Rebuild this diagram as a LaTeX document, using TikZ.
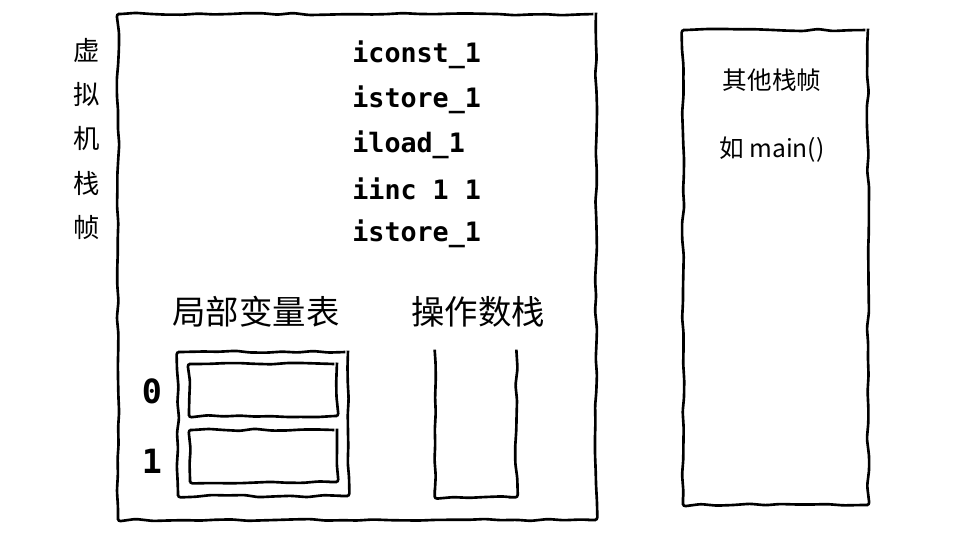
\documentclass[tikz,border=0pt]{standalone}
\usepackage{fontspec}
\setmainfont{Noto Sans CJK SC}
\setmonofont{DejaVu Sans Mono}
\usetikzlibrary{positioning, decorations.pathmorphing}
\tikzset{
	sketch/.style={draw, line width=1.5pt, decorate,
		decoration={random steps, segment length=9pt, amplitude=0.7pt},
		rounded corners=1.5pt, inner sep=0pt}, % Trazo a mano alzada
	code/.style={font=\ttfamily\bfseries\fontsize{15.2}{18}\selectfont,
		text width=3cm, align=left, inner sep=0pt}, % Instrucciones
	label/.style={font=\fontsize{19}{22}\selectfont, inner sep=0pt}, % Titulos
	slotnum/.style={font=\ttfamily\bfseries\fontsize{19}{22}\selectfont, inner sep=0pt}, % Indices
	note/.style={font=\fontsize{14}{16}\selectfont, inner sep=0pt} % Texto lateral
}
\newcommand{\cspace}{\hspace{0.602em}}

\begin{document}
\begin{tikzpicture}[x=0.02cm, y=-0.02cm, node distance=0.895cm]
				\useasboundingbox (0,0) rectangle (960,540);
				
				\node[sketch, minimum width=9.56cm, minimum height=10.12cm] (frame) at (357,267) {};
				\node[sketch, minimum width=3.7cm, minimum height=9.5cm] (other) at (775.5,267.5) {};
				
				\node[note, align=center, font=\fontsize{15}{25.2}\selectfont] (title) at (87,139) {虚\\拟\\机\\栈\\帧};
				
				\node[code, anchor=west] (c1) at (352,55) {iconst\_1};
				\node[code, below of=c1] (c2) {istore\_1};
				\node[code, below of=c2] (c3) {iload\_1};
				\node[code, below of=c3] (c4) {iinc\cspace 1\cspace 1};
				\node[code, below of=c4] (c5) {istore\_1};
				
				\node[label] (locals) at (256,312) {局部变量表};
				\node[label] (opname) at (478,312) {操作数栈};
				
				\node[sketch, minimum width=3.4cm, minimum height=2.88cm] (table) at (263,424) {};
				\node[sketch, minimum width=2.96cm, minimum height=1.04cm] (slot0) at (263,390) {};
				\node[sketch, minimum width=2.94cm, minimum height=1.04cm] (slot1) at (263.5,456) {};
				\node[slotnum] (n0) at (152,391) {0};
				\node[slotnum] (n1) at (152,461) {1};
				
				\node[minimum width=1.62cm, minimum height=2.94cm, inner sep=0pt] (stack) at (475.5,423.5) {};
				\draw[sketch] (stack.north west) -- (stack.south west) -- (stack.south east) -- (stack.north east);
				
				\node[note] (others) at (772,80) {其他栈帧};
				\node[note] (example) at (772,150) {如 main()};
			\end{tikzpicture}
\end{document}
